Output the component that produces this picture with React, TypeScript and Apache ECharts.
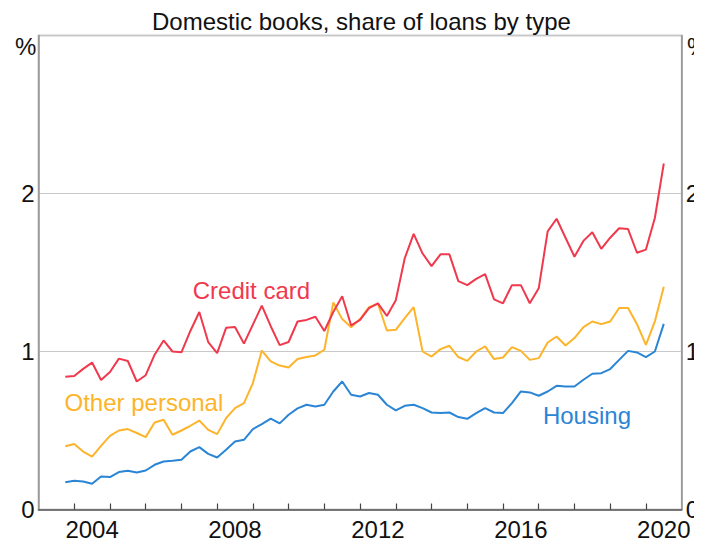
import React, { useEffect, useRef } from "react";
import * as echarts from "echarts";

const TITLE = "Domestic books, share of loans by type";
const FIRST_QUARTER = 2003.75;
const QUARTER_STEP = 0.25;

const creditCard = [
  0.84, 0.845, 0.89, 0.93, 0.82, 0.87, 0.955, 0.94, 0.81, 0.85,
  0.98, 1.07, 1.0, 0.995, 1.13, 1.25, 1.06, 0.99, 1.15, 1.155,
  1.05, 1.17, 1.29, 1.16, 1.04, 1.06, 1.19, 1.2, 1.22, 1.13,
  1.25, 1.35, 1.165, 1.2, 1.275, 1.305, 1.225, 1.325, 1.59, 1.745,
  1.62, 1.54, 1.615, 1.615, 1.445, 1.42, 1.46, 1.49, 1.33, 1.305,
  1.42, 1.42, 1.305, 1.4, 1.76, 1.84, 1.72, 1.6, 1.7, 1.755,
  1.65, 1.72, 1.78, 1.775, 1.625, 1.645, 1.845, 2.19,
];

const otherPersonal = [
  0.4, 0.415, 0.367, 0.335, 0.403, 0.466, 0.5, 0.509, 0.484, 0.458,
  0.551, 0.568, 0.473, 0.5, 0.53, 0.563, 0.504, 0.477, 0.578, 0.642,
  0.673, 0.8, 1.006, 0.937, 0.911, 0.899, 0.952, 0.965, 0.975, 1.011,
  1.31, 1.205, 1.154, 1.205, 1.281, 1.302, 1.133, 1.137, 1.211, 1.281,
  1.0, 0.968, 1.015, 1.036, 0.965, 0.941, 1.0, 1.032, 0.952, 0.962,
  1.028, 1.004, 0.947, 0.958, 1.057, 1.095, 1.038, 1.085, 1.154, 1.19,
  1.173, 1.19, 1.275, 1.275, 1.173, 1.042, 1.19, 1.41,
];

const housing = [
  0.173, 0.182, 0.177, 0.163, 0.209, 0.205, 0.237, 0.245, 0.234, 0.247,
  0.283, 0.304, 0.308, 0.315, 0.367, 0.395, 0.352, 0.329, 0.378, 0.43,
  0.441, 0.509, 0.54, 0.575, 0.545, 0.6, 0.64, 0.663, 0.652, 0.663,
  0.747, 0.81, 0.726, 0.715, 0.737, 0.726, 0.663, 0.627, 0.656, 0.663,
  0.642, 0.614, 0.61, 0.614, 0.585, 0.574, 0.61, 0.642, 0.614, 0.61,
  0.673, 0.747, 0.741, 0.72, 0.747, 0.783, 0.778, 0.778, 0.821, 0.859,
  0.863, 0.889, 0.947, 1.004, 0.994, 0.965, 1.0, 1.175,
];

const yearTicks = [
  2004, 2005, 2006, 2007, 2008, 2009, 2010, 2011, 2012,
  2013, 2014, 2015, 2016, 2017, 2018, 2019, 2020,
];
const yearLabels = [2004, 2008, 2012, 2016, 2020];

const seriesNames = ["Credit card", "Other personal", "Housing"];
const seriesColors = ["#F0394D", "#FDB42A", "#2B85D5"];
// label anchor positions in data coordinates [year, %]
const labelAnchors: [number, number][] = [
  [2008.96, 1.384],
  [2005.95, 0.675],
  [2018.35, 0.593],
];

const FONT = "'Liberation Sans', Arial, sans-serif";

export default function App() {
  const ref = useRef<HTMLDivElement>(null);

  useEffect(() => {
    if (!ref.current) return;
    const chart = echarts.init(ref.current, null, { renderer: "svg" });
    const quarters = creditCard.map((_, i) => FIRST_QUARTER + QUARTER_STEP * i);
    const allData = [creditCard, otherPersonal, housing];

    const series = allData.map((vals, k) => ({
      name: seriesNames[k],
      type: "line",
      data: vals.map((v, i) => [quarters[i], v]),
      showSymbol: false,
      symbol: "none",
      lineStyle: { color: seriesColors[k], width: 2 },
      itemStyle: { color: seriesColors[k] },
      z: 3 - k + 2,
      markPoint: {
        symbol: "circle",
        symbolSize: 0.1,
        itemStyle: { color: "transparent" },
        label: {
          show: true,
          position: "inside",
          formatter: seriesNames[k],
          color: seriesColors[k],
          fontSize: 24,
          fontFamily: FONT,
        },
        data: [{ coord: labelAnchors[k] }],
      },
    }));

    chart.setOption({
      animation: false,
      backgroundColor: "#ffffff",
      textStyle: { fontFamily: FONT },
      title: {
        text: TITLE,
        left: 147,
        top: 4,
        textStyle: { fontSize: 24, fontWeight: "normal", color: "#111", fontFamily: FONT },
      },
      grid: {
        left: 38.5,
        right: 19,
        top: 35.5,
        bottom: 37.5,
        show: true,
        borderColor: "#9a9a9a",
        borderWidth: 1.5,
        containLabel: false,
      },
      xAxis: {
        type: "value",
        min: 2003,
        max: 2021,
        axisLine: { show: true, lineStyle: { color: "#555", width: 1.5 } },
        axisTick: {
          show: true,
          inside: true,
          length: 6,
          customValues: yearTicks,
          lineStyle: { color: "#444", width: 1.2 },
        },
        axisLabel: {
          show: true,
          customValues: yearLabels.map((y) => y + 0.5),
          formatter: (v: number) => String(Math.floor(v)),
          fontSize: 24,
          color: "#111",
          margin: 8,
          fontFamily: FONT,
        },
        splitLine: { show: false },
      },
      yAxis: [
        {
          type: "value",
          min: 0,
          max: 3,
          interval: 1,
          position: "left",
          axisLine: { show: true, lineStyle: { color: "#9a9a9a", width: 1.5 } },
          axisTick: { show: false },
          axisLabel: {
            fontSize: 24,
            color: "#111",
            margin: 4,
            fontFamily: FONT,
            formatter: (v: number) => (v === 3 ? "" : String(v)),
          },
          splitLine: { show: true, lineStyle: { color: "#c8c8c8", width: 1.2 } },
        },
        {
          type: "value",
          min: 0,
          max: 3,
          interval: 1,
          position: "right",
          axisLine: { show: true, lineStyle: { color: "#9a9a9a", width: 1.5 } },
          axisTick: { show: false },
          axisLabel: {
            fontSize: 24,
            color: "#111",
            margin: 4,
            fontFamily: FONT,
            formatter: (v: number) => (v === 3 ? "" : String(v)),
          },
          splitLine: { show: false },
        },
      ],
      graphic: [
        {
          type: "text",
          left: 15,
          top: 34,
          style: { text: "%", fontSize: 24, fill: "#111", fontFamily: FONT },
        },
        {
          type: "text",
          left: 687,
          top: 34,
          style: { text: "%", fontSize: 24, fill: "#111", fontFamily: FONT },
        },
      ],
      series,
    });

    return () => chart.dispose();
  }, []);

  return <div ref={ref} style={{ width: 702, height: 547, margin: -8 }} />;
}
